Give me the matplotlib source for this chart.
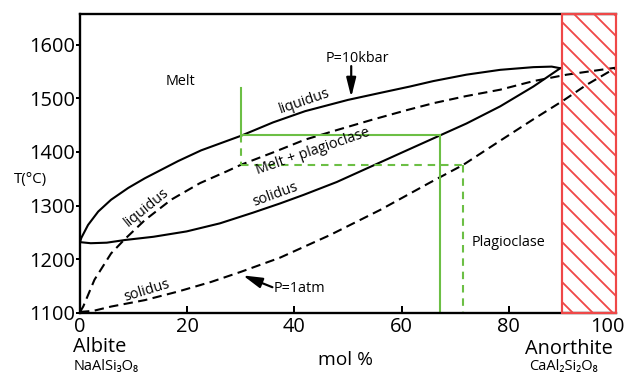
import matplotlib
matplotlib.use("Agg")
import matplotlib.pyplot as plt
from matplotlib.patches import Rectangle
from matplotlib.transforms import ScaledTranslation

plt.rcParams['font.family'] = ['Open Sans', 'DejaVu Sans']
plt.rcParams['hatch.linewidth'] = 1.1

# ---------------- data ----------------
# P = 10 kbar liquidus (solid)
liq10_x = [0, 0.25, 1.5, 3.4, 5.8, 9, 12.1, 15.2, 18.3, 22.6, 30, 36, 42, 50, 56, 61.6, 65.9, 72.1, 78.4, 84.6, 88, 89.6]
liq10_T = [1232, 1240, 1264, 1289, 1311, 1333, 1351, 1367, 1383, 1403, 1430, 1455, 1476, 1497, 1510, 1522, 1532, 1544, 1553, 1558, 1559, 1556]
# P = 10 kbar solidus (solid)
sol10_x = [0, 2, 5, 8.4, 13.7, 19.9, 26.1, 32.3, 37.3, 41.7, 47.9, 54.1, 60.3, 67.2, 72.1, 78.4, 84.6, 89.6]
sol10_T = [1232, 1230, 1231, 1236, 1242, 1252, 1267, 1287, 1304, 1320, 1344, 1372, 1400, 1431, 1453, 1485, 1522, 1556]
# P = 1 atm liquidus (dashed)
liq1_x = [0, 0.6, 2.7, 5.8, 8.3, 12.1, 17, 22.4, 27.4, 30, 36, 42, 48, 54.5, 61, 66, 72, 78.4, 84.6, 90.8, 95, 100]
liq1_T = [1102, 1112, 1162, 1211, 1237, 1273, 1311, 1342, 1364, 1376, 1399, 1423, 1441, 1460, 1478, 1491, 1504, 1516, 1532, 1544, 1550, 1557]
# P = 1 atm solidus (dashed)
sol1_x = [0, 2.5, 5.8, 12.1, 18.3, 24.5, 30.1, 37.3, 46.6, 56, 65.3, 71.5, 78.4, 84.6, 90.2, 94.5, 100]
sol1_T = [1102, 1104, 1112, 1124, 1140, 1158, 1177, 1203, 1245, 1292, 1343, 1376, 1421, 1461, 1496, 1525, 1557]

# lever-rule construction (green)
x_bulk = 30
T_start = 1520
T_liq10 = 1431
x_sol10 = 67.2
T_liq1 = 1376
x_sol1 = 71.5

# anorthite region (hatched)
an_region = (90, 100)

xticks = [0, 20, 40, 60, 80, 100]
yticks = [1100, 1200, 1300, 1400, 1500, 1600]
ylim = (1100, 1657)

# ---------------- figure ----------------
DPI = 120
fig = plt.figure(figsize=(630 / DPI, 374 / DPI), dpi=DPI)
ax = fig.add_axes([80 / 630, 61 / 374, 536 / 630, 299 / 374])

LW = 1.25
GREEN = '#6cbf45'
RED = '#ef4848'

ax.plot(liq10_x, liq10_T, color='k', lw=LW, solid_capstyle='round', solid_joinstyle='round')
ax.plot(sol10_x, sol10_T, color='k', lw=LW, solid_capstyle='round', solid_joinstyle='round')
ax.plot(liq1_x, liq1_T, color='k', lw=LW, ls=(0, (4.5, 2.6)))
ax.plot(sol1_x, sol1_T, color='k', lw=LW, ls=(0, (4.5, 2.6)))

gdash = (0, (3.6, 2.8))
ax.plot([x_bulk, x_bulk], [T_start, T_liq10], color=GREEN, lw=LW)
ax.plot([x_bulk, x_sol10], [T_liq10, T_liq10], color=GREEN, lw=LW)
ax.plot([x_sol10, x_sol10], [T_liq10, ylim[0]], color=GREEN, lw=LW)
ax.plot([x_bulk, x_bulk], [T_liq10, T_liq1], color=GREEN, lw=LW, ls=gdash)
ax.plot([x_bulk, x_sol1], [T_liq1, T_liq1], color=GREEN, lw=LW, ls=gdash)
ax.plot([x_sol1, x_sol1], [T_liq1, ylim[0]], color=GREEN, lw=LW, ls=gdash)

rect = Rectangle((an_region[0], ylim[0]), an_region[1] - an_region[0], ylim[1] - ylim[0],
                 fill=False, edgecolor=RED, hatch='\\\\', lw=1.3, zorder=5, clip_on=False)
ax.add_patch(rect)

ax.set_xlim(0, 100)
ax.set_ylim(*ylim)
ax.set_xticks(xticks)
ax.set_yticks(yticks)
ax.spines['right'].set_visible(False)
for s in ['left', 'bottom', 'top']:
    ax.spines[s].set_linewidth(1.4)
ax.tick_params(axis='y', direction='out', length=2.6, width=1.2, pad=0.2, labelsize=12)
ax.tick_params(axis='x', direction='in', length=4, width=1.2, pad=2.5, labelsize=12)

# shift the last x tick label left so it stays inside the figure
fig.canvas.draw()
last = ax.get_xticklabels()[-1]
last.set_transform(last.get_transform() + ScaledTranslation(-9 / DPI, 0, fig.dpi_scale_trans))

fs_in = 8.6
ax.text(18.7, 1531, 'Melt', fontsize=fs_in, ha='center', va='center')
ax.text(51.7, 1574, 'P=10kbar', fontsize=fs_in, ha='center', va='center')
ax.annotate('', xy=(50.6, 1502), xytext=(50.6, 1560),
            arrowprops=dict(arrowstyle='-|>,head_length=0.8,head_width=0.2', color='k',
                            lw=1.3, mutation_scale=12, shrinkA=0, shrinkB=0))
ax.text(41.8, 1494, 'liquidus', fontsize=fs_in, ha='center', va='center', rotation=19,
        rotation_mode='anchor')
ax.text(43.5, 1401, 'Melt + plagioclase', fontsize=fs_in, ha='center', va='center',
        rotation=19, rotation_mode='anchor')
ax.text(36.4, 1320, 'solidus', fontsize=fs_in, ha='center', va='center', rotation=20,
        rotation_mode='anchor')
ax.text(12.5, 1297, 'liquidus', fontsize=fs_in, ha='center', va='center', rotation=39,
        rotation_mode='anchor')
ax.text(12.5, 1142, 'solidus', fontsize=fs_in, ha='center', va='center', rotation=17,
        rotation_mode='anchor')
ax.text(41.0, 1145, 'P=1atm', fontsize=fs_in, ha='center', va='center')
ax.annotate('', xy=(30.4, 1170), xytext=(35.9, 1148),
            arrowprops=dict(arrowstyle='-|>,head_length=0.8,head_width=0.22', color='k',
                            lw=1.3, mutation_scale=12, shrinkA=0, shrinkB=0))
ax.text(79.9, 1232, 'Plagioclase', fontsize=fs_in, ha='center', va='center')

def ftext(px, py, s, **kw):
    fig.text(px / 630, 1 - py / 374, s, **kw)

ftext(30, 179, 'T(°C)', fontsize=9, ha='center', va='center')
ftext(99.5, 352.5, 'Albite', fontsize=12, ha='center', va='baseline')
ftext(106.5, 369.5, 'NaAlSi₃O₈', fontsize=8.8, ha='center', va='baseline')
ftext(345, 365, 'mol %', fontsize=11.5, ha='center', va='baseline')
ftext(568.5, 354, 'Anorthite', fontsize=12, ha='center', va='baseline')
ftext(563, 370, 'CaAl₂Si₂O₈', fontsize=8.8, ha='center', va='baseline')

fig.savefig('out.png', dpi=DPI)
